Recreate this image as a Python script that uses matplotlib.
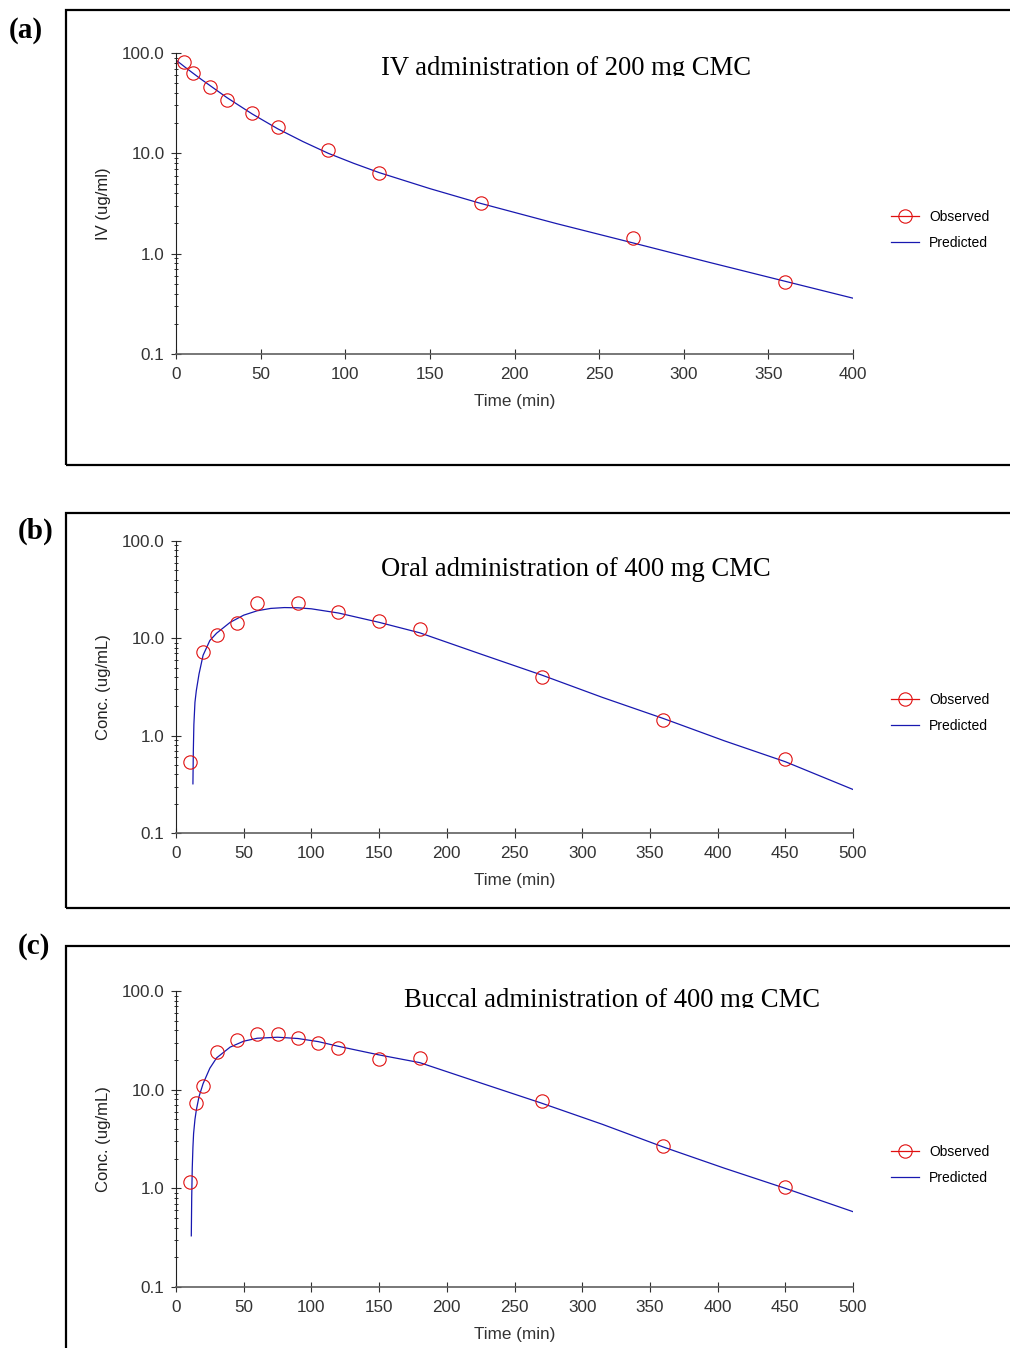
import matplotlib
matplotlib.use("Agg")
import matplotlib.pyplot as plt
import matplotlib.patches as mpatches
from matplotlib.lines import Line2D
from matplotlib.ticker import LogLocator, FixedLocator, FuncFormatter, NullFormatter
from matplotlib.transforms import Bbox, TransformedBbox

# IV 200 mg
iv_obs_t = [5, 10, 20, 30, 45, 60, 90, 120, 180, 270, 360]
iv_obs_c = [80.7, 63.7, 45.5, 34.0, 25.0, 18.4, 10.7, 6.36, 3.19, 1.42, 0.525]
iv_pred_t = [0, 5, 10, 15, 20, 30, 45, 60, 75, 90, 105, 120, 150, 180, 225, 270, 315, 360, 400]
iv_pred_c = [85, 73, 63, 54.5, 47.5, 36, 24.7, 17.6, 13.1, 10.0, 7.95, 6.43, 4.45, 3.17, 1.99, 1.28, 0.82, 0.53, 0.36]

# oral 400 mg
oral_obs_t = [10, 20, 30, 45, 60, 90, 120, 150, 180, 270, 360, 450]
oral_obs_c = [0.535, 7.2, 10.9, 14.5, 22.9, 22.9, 18.5, 14.9, 12.6, 4.0, 1.45, 0.58]
oral_pred_t = [12.5, 12.8, 13.2, 14, 15, 17, 20, 25, 30, 40, 50, 60, 70, 80, 90, 100, 120, 150, 180, 225, 270, 315, 360, 405, 450, 500]
oral_pred_c = [0.32, 0.7, 1.3, 2.2, 2.9, 4.3, 6.7, 9.5, 11.3, 14.6, 17.3, 19.2, 20.3, 20.7, 20.6, 20.1, 18.2, 14.6, 11.4, 6.9, 4.2, 2.47, 1.5, 0.885, 0.54, 0.28]

# buccal 400 mg
buc_obs_t = [10, 15, 20, 30, 45, 60, 75, 90, 105, 120, 150, 180, 270, 360, 450]
buc_obs_c = [1.16, 7.3, 10.8, 24.1, 31.9, 36.7, 36.7, 33.2, 29.5, 26.7, 20.5, 20.8, 7.6, 2.7, 1.02]
buc_pred_t = [11.3, 11.6, 12, 12.5, 13, 14, 15, 17, 20, 25, 30, 40, 50, 60, 75, 90, 105, 120, 150, 180, 225, 270, 315, 360, 405, 450, 500]
buc_pred_c = [0.33, 0.8, 1.6, 2.6, 3.6, 5.0, 6.2, 8.5, 11.5, 16.5, 21.0, 27.0, 31.0, 33.2, 34.0, 33.0, 30.7, 27.5, 22.5, 18.8, 11.7, 7.3, 4.45, 2.62, 1.6, 1.0, 0.58]

titles = ["IV administration of 200 mg CMC",
          "Oral administration of 400 mg CMC",
          "Buccal administration of 400 mg CMC"]
ylabels = ["IV (ug/ml)", "Conc. (ug/mL)", "Conc. (ug/mL)"]
panel_tags = ["(a)", "(b)", "(c)"]
xmaxes = [400, 500, 500]

W, H = 1010, 1348
fig = plt.figure(figsize=(W / 100, H / 100), dpi=100)
sans = "Liberation Sans"
serif = "Liberation Serif"

# pixel layout: axes (left, top, right, bottom), frame (top, bottom), title (x, baseline), legend y
axes_px = [(176, 53, 853, 354), (176, 541, 853, 833), (176, 991, 853, 1287)]
frames_px = [(10, 465), (513, 908), (946, 1360)]
title_px = [(381, 75), (381, 576), (404, 1007)]
title_clip = [76, None, 1008]
tag_px = [(9, 31), (18, 531), (18, 947)]
legend_px = [218, 701, 1153]

obs = [(iv_obs_t, iv_obs_c), (oral_obs_t, oral_obs_c), (buc_obs_t, buc_obs_c)]
pred = [(iv_pred_t, iv_pred_c), (oral_pred_t, oral_pred_c), (buc_pred_t, buc_pred_c)]

red = "#e01010"
blue = "#1818b0"

for i in range(3):
    # outer frame
    ft, fb = frames_px[i]
    fig.patches.append(mpatches.Rectangle((66 / W, 1 - fb / H), 1.2, (fb - ft) / H,
                                          transform=fig.transFigure, fill=False,
                                          edgecolor="black", linewidth=1.6))
    l, t, r, b = axes_px[i]
    ax = fig.add_axes([l / W, 1 - b / H, (r - l) / W, (b - t) / H])
    ax.plot(pred[i][0], pred[i][1], color=blue, lw=0.9, zorder=2)
    ax.plot(obs[i][0], obs[i][1], ls="none", marker="o", ms=9.6, mfc="none",
            mec=red, mew=0.8, zorder=3)
    ax.set_yscale("log")
    ax.set_ylim(0.1, 100)
    ax.set_xlim(0, xmaxes[i])
    ax.xaxis.set_major_locator(FixedLocator(range(0, xmaxes[i] + 1, 50)))
    ax.yaxis.set_major_locator(FixedLocator([0.1, 1, 10, 100]))
    ax.yaxis.set_major_formatter(FuncFormatter(lambda v, p: "%.1f" % v))
    ax.yaxis.set_minor_locator(LogLocator(base=10, subs=range(2, 10)))
    ax.yaxis.set_minor_formatter(NullFormatter())
    for side in ["top", "right"]:
        ax.spines[side].set_visible(False)
    ax.spines["left"].set_color("#202020")
    ax.spines["left"].set_linewidth(0.8)
    ax.spines["bottom"].set_color("#606060")
    ax.spines["bottom"].set_linewidth(1.2)
    ax.tick_params(axis="both", which="major", direction="inout", length=6.5,
                   width=0.8, color="#303030", labelsize=12.3, labelcolor="#333333")
    ax.tick_params(axis="x", which="major", pad=6)
    ax.tick_params(axis="y", which="major", pad=5)
    ax.tick_params(axis="y", which="minor", direction="inout", length=3,
                   width=0.7, color="#303030")
    for lab in ax.get_xticklabels() + ax.get_yticklabels():
        lab.set_fontfamily(sans)
    ax.set_xlabel("Time (min)", fontsize=12.3, fontfamily=sans, color="#333333")
    ax.xaxis.set_label_coords(0.5, -40 / (b - t))
    ax.set_ylabel(ylabels[i], fontsize=12, fontfamily=sans, color="#222222")
    ax.yaxis.set_label_coords(-(176 - 111) / (r - l), 0.5)
    ax.set_facecolor("none")

    # title inside the panel
    tx, ty = title_px[i]
    txt = fig.text(tx / W, 1 - ty / H, titles[i], fontsize=19.2, fontfamily=serif,
                   ha="left", va="baseline")
    if title_clip[i] is not None:
        clip = Bbox.from_extents(0, 1 - title_clip[i] / H, 1, 1)
        txt.set_clip_box(TransformedBbox(clip, fig.transFigure))
        txt.set_clip_on(True)

    gx, gy = tag_px[i]
    fig.text(gx / W, 1 - gy / H, panel_tags[i], fontsize=21, fontweight="bold",
             fontfamily=serif, ha="left", va="center")

    handles = [Line2D([], [], color=red, lw=0.9, marker="o", ms=9.6, mfc="none", mec=red, mew=0.8),
               Line2D([], [], color=blue, lw=0.9)]
    ax.legend(handles, ["Observed", "Predicted"], loc="center left",
              bbox_to_anchor=(891 / W, 1 - (legend_px[i] + 12) / H),
              bbox_transform=fig.transFigure, frameon=False,
              prop={"family": sans, "size": 10}, handlelength=2.0,
              handletextpad=0.75, labelspacing=0.85, borderpad=0, borderaxespad=0)

fig.savefig("out.png", dpi=100, facecolor="white")
